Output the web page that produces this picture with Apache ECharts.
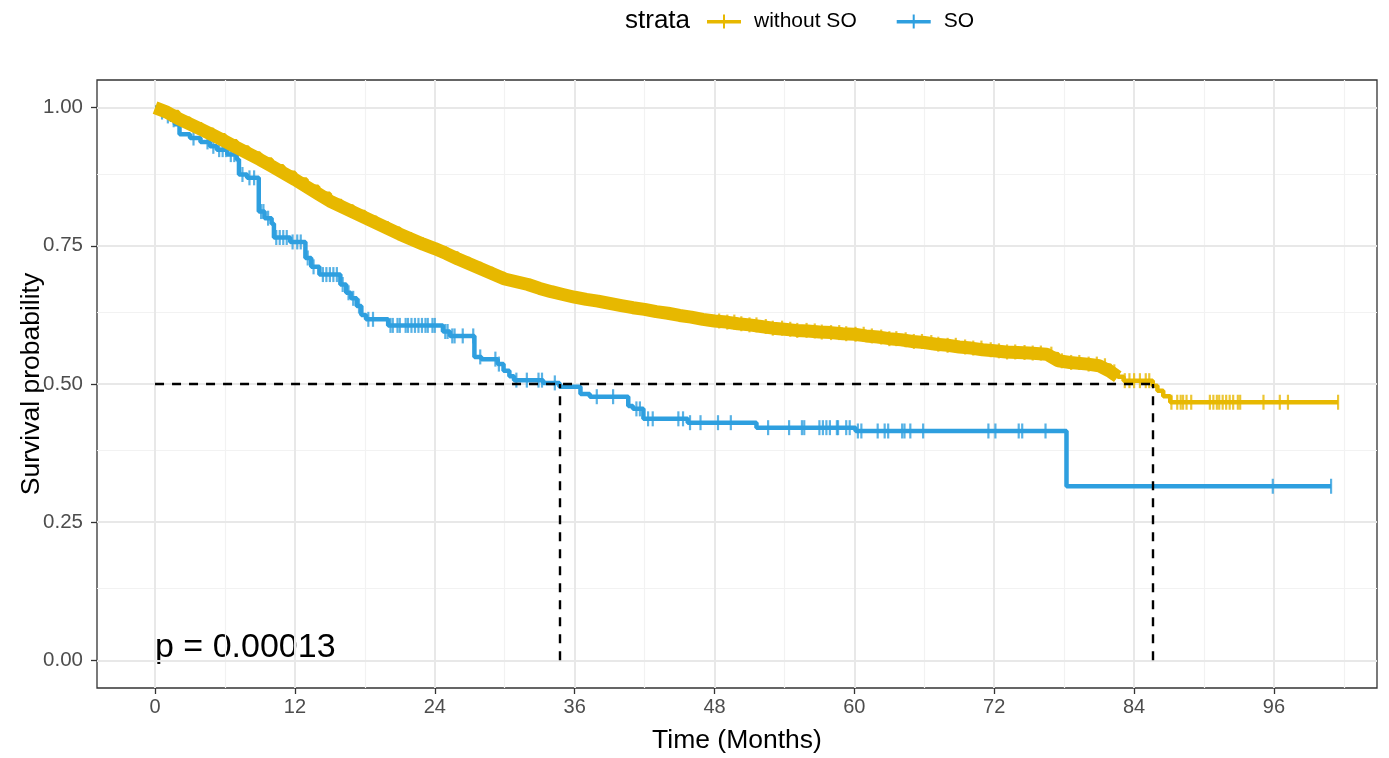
<!DOCTYPE html>
<html>
<head>
<meta charset="utf-8">
<script src="https://cdn.jsdelivr.net/npm/echarts@6/dist/echarts.min.js"></script>
<style>
html, body { margin: 0; padding: 0; background: #fff; }
#chart { width: 1389px; height: 758px; }
</style>
</head>
<body>
<div id="chart"></div>
<script>
// axis ticks (months / survival probability)
var xTicks = [0, 12, 24, 36, 48, 60, 72, 84, 96];
var xMinor = [6, 18, 30, 42, 54, 66, 78, 90, 102];
var yTicks = [0, 0.25, 0.5, 0.75, 1];
var yMinor = [0.125, 0.375, 0.625, 0.875];

// Kaplan-Meier steps
var yellowTime = [0, 1, 2, 3, 4, 5, 6, 7, 8, 9, 10, 11, 12, 13, 14, 15, 16, 17, 18, 19, 20, 21, 22, 23, 24, 25, 26, 27, 28, 29,
  30, 31, 32, 33, 34, 35, 36, 37, 38, 39, 40, 41, 42, 43, 44, 45, 46, 47, 48, 49, 50, 51, 52, 53, 54, 55, 56, 57, 58, 59,
  60, 61, 62, 63, 64, 65, 66, 67, 68, 69, 70, 71, 72, 73, 74, 75, 76.5, 77.5, 78.5, 80, 81, 82, 82.6, 83.1, 85.6, 86.0, 86.5, 87.1, 101.5];
var yellowSurv = [1.000, 0.992, 0.980, 0.970, 0.960, 0.950, 0.939, 0.928, 0.917, 0.906, 0.894, 0.882, 0.870, 0.857, 0.844, 0.831, 0.821, 0.811, 0.801, 0.791,
  0.781, 0.771, 0.762, 0.753, 0.745, 0.736, 0.726, 0.717, 0.708, 0.699, 0.690, 0.685, 0.680, 0.673, 0.667, 0.662, 0.657, 0.653, 0.650, 0.646,
  0.642, 0.638, 0.635, 0.631, 0.628, 0.624, 0.621, 0.617, 0.614, 0.612, 0.609, 0.607, 0.604, 0.601, 0.599, 0.597, 0.596, 0.594, 0.593, 0.591,
  0.590, 0.587, 0.585, 0.582, 0.580, 0.577, 0.575, 0.572, 0.570, 0.567, 0.565, 0.562, 0.560, 0.558, 0.557, 0.556,
  0.554, 0.542, 0.539, 0.536, 0.533, 0.522, 0.513, 0.506, 0.497, 0.488, 0.478, 0.467, 0.467];
var yellowDenseUntil = 83; // censoring is so dense up to here that the marks merge into a band
var yellowCensor = [48.4, 49.1, 49.7, 50.3, 51.0, 51.6, 52.4, 53.0, 53.8, 54.5, 55.1, 55.9, 56.6, 57.2, 58.0, 58.7, 59.3, 60.1, 60.8,
  61.5, 62.3, 63.0, 63.6, 64.4, 65.1, 65.8, 66.6, 67.2, 68.0, 68.7, 69.5, 70.2, 70.9, 71.7, 72.4, 73.1, 73.8, 74.6, 75.3, 76.0,
  76.9, 77.8, 78.6, 79.3, 80.1, 80.8, 81.5, 82.3, 83.2, 83.6, 84.0, 84.5, 85.0, 85.3,
  87.2, 87.7, 88.0, 88.2, 88.5, 88.9, 90.5, 90.8, 91.1, 91.3, 91.6, 91.9, 92.2, 92.5, 92.9, 93.1, 95.1, 96.5, 97.2, 101.5];

var blueTime = [0, 0.4, 0.9, 1.3, 1.7, 2.1, 3.0, 3.9, 4.7, 5.3, 6.2, 7.0, 7.2, 7.9, 8.9, 9.4, 10.0, 10.2, 11.6, 12.9, 13.4, 14.1,
  15.9, 16.4, 16.8, 17.3, 17.7, 18.1, 20.0, 24.7, 25.3, 27.4, 28.0, 29.4, 29.9, 30.4, 30.8, 33.3, 34.7, 36.5, 37.3, 40.6, 41.0,
  41.9, 45.7, 51.6, 60.1, 78.2, 100.9];
var blueSurv = [1.000, 0.992, 0.985, 0.978, 0.970, 0.952, 0.945, 0.938, 0.930, 0.924, 0.915, 0.906, 0.879, 0.873, 0.812, 0.800, 0.790,
  0.765, 0.757, 0.728, 0.712, 0.698, 0.680, 0.665, 0.655, 0.641, 0.625, 0.617, 0.606, 0.595, 0.587, 0.549, 0.545, 0.536, 0.524,
  0.514, 0.507, 0.502, 0.495, 0.482, 0.477, 0.460, 0.455, 0.437, 0.430, 0.421, 0.415, 0.315, 0.315];
var blueCensor = [0.6, 1.1, 1.6, 3.3, 4.5, 5.0, 5.5, 5.8, 6.1, 6.5, 6.8, 7.5, 8.1, 8.5, 9.1, 9.3, 9.7, 10.4, 10.7, 11.0, 11.3, 11.8,
  12.2, 12.5, 13.1, 13.6, 14.4, 14.7, 15.0, 15.3, 15.6, 16.1, 16.6, 17.0, 17.5, 18.3, 18.7, 20.2, 20.4, 20.8, 21.0, 21.5, 21.7,
  22.0, 22.3, 22.6, 22.9, 23.2, 23.4, 23.8, 24.0, 24.9, 25.1, 25.5, 25.7, 26.4, 27.3, 27.9, 29.2, 29.5, 31.0, 31.9, 32.9, 33.2,
  34.3, 37.9, 39.3, 41.3, 41.6, 42.3, 42.7, 44.9, 45.3, 45.9, 46.8, 48.3, 49.4, 52.6, 54.4, 55.5, 55.7, 57.0, 57.3, 57.6, 57.9,
  58.5, 58.6, 59.3, 59.6, 60.3, 60.6, 62.0, 62.6, 62.9, 64.1, 64.3, 64.8, 65.9, 71.5, 72.1, 74.1, 74.4, 76.4, 95.9, 100.9];

var medianTimes = [34.7, 85.6];
var pValue = 'p = 0.00013';

var YELLOW = '#E7B800';
var BLUE = '#2E9FDF';
var FONT = 'Liberation Sans, Arial, Helvetica, sans-serif';

function pairs(times, surv) {
    return times.map(function (t, i) { return [t, surv[i]]; });
}
function survAt(times, surv, t) {
    var s = surv[0];
    for (var i = 0; i < times.length; i++) {
        if (times[i] <= t) s = surv[i];
    }
    return s;
}
function censorPoints(times, surv, cens) {
    return cens.map(function (c) { return [c, survAt(times, surv, c)]; });
}

var yellowBand = pairs(yellowTime, yellowSurv).filter(function (p) { return p[0] <= yellowDenseUntil; });

var myChart = echarts.init(document.getElementById('chart'));

option = {
    backgroundColor: '#fff',
    animation: false,
    title: {
        text: 'strata',
        left: 620,
        top: 4,
        padding: [4, 5],
        textStyle: { fontFamily: FONT, fontSize: 26, fontWeight: 'normal', color: '#000' }
    },
    legend: {
        data: ['without SO', 'SO'],
        left: 702,
        top: 6,
        itemWidth: 34,
        itemHeight: 14,
        itemGap: 40,
        icon: 'path://M0,5.5h34v3.5H0z M16,0h2v14h-2z',
        textStyle: { fontFamily: FONT, fontSize: 21, color: '#000', padding: [0, 0, 0, 8] }
    },
    grid: {
        left: 97,
        right: 12,
        top: 80,
        bottom: 70,
        outerBoundsMode: 'none',
        show: true,
        backgroundColor: '#fff',
        borderColor: '#333',
        borderWidth: 1.3
    },
    xAxis: {
        type: 'value',
        min: -4.98,
        max: 104.84,
        name: 'Time (Months)',
        nameLocation: 'middle',
        nameGap: 39,
        nameMoveOverlap: false,
        nameTextStyle: { fontFamily: FONT, fontSize: 26.5, color: '#000' },
        axisLine: { show: false, onZero: false },
        splitLine: { show: false },
        axisTick: { show: true, length: 6, customValues: xTicks, lineStyle: { color: '#333', width: 1.3 } },
        axisLabel: { customValues: xTicks, margin: 9, fontFamily: FONT, fontSize: 20, color: '#4d4d4d' }
    },
    yAxis: {
        type: 'value',
        min: -0.05,
        max: 1.05,
        name: 'Survival probability',
        nameLocation: 'middle',
        nameGap: 52,
        nameMoveOverlap: false,
        nameTextStyle: { fontFamily: FONT, fontSize: 26.5, color: '#000' },
        axisLine: { show: false, onZero: false },
        splitLine: { show: false },
        axisTick: { show: true, length: 6, customValues: yTicks, lineStyle: { color: '#333', width: 1.3 } },
        axisLabel: {
            customValues: yTicks, margin: 14, fontFamily: FONT, fontSize: 20.5, color: '#4d4d4d',
            formatter: function (v) { return v.toFixed(2); }
        }
    },
    graphic: [{
        type: 'text',
        left: 155,
        top: 631,
        style: { text: pValue, fontFamily: FONT, fontSize: 34, fill: '#000' }
    }],
    series: [
        {
            name: 'grid',
            type: 'line',
            data: [],
            silent: true,
            markLine: {
                silent: true,
                z: 1,
                symbol: ['none', 'none'],
                label: { show: false },
                lineStyle: { color: '#f2f2f2', width: 1.2, type: 'solid' },
                data: xMinor.map(function (v) { return { xAxis: v }; })
                    .concat(yMinor.map(function (v) { return { yAxis: v }; }))
            }
        },
        {
            name: 'grid major',
            type: 'line',
            data: [],
            silent: true,
            markLine: {
                silent: true,
                z: 1,
                symbol: ['none', 'none'],
                label: { show: false },
                lineStyle: { color: '#e8e8e8', width: 2, type: 'solid' },
                data: xTicks.map(function (v) { return { xAxis: v }; })
                    .concat(yTicks.map(function (v) { return { yAxis: v }; }))
            }
        },
        {
            name: 'without SO',
            type: 'line',
            step: 'end',
            color: YELLOW,
            showSymbol: false,
            lineStyle: { width: 4.5, color: YELLOW },
            data: pairs(yellowTime, yellowSurv)
        },
        {
            name: 'SO',
            type: 'line',
            step: 'end',
            color: BLUE,
            showSymbol: false,
            lineStyle: { width: 4.5, color: BLUE },
            data: pairs(blueTime, blueSurv)
        },
        {
            // dense censor marks drawn as one band along the curve
            name: 'without SO band',
            type: 'line',
            showSymbol: false,
            lineStyle: { width: 13, color: YELLOW, cap: 'butt' },
            data: yellowBand
        },
        {
            name: 'without SO censor',
            type: 'scatter',
            symbol: 'rect',
            symbolSize: [2.2, 15],
            itemStyle: { color: YELLOW },
            data: censorPoints(yellowTime, yellowSurv, yellowCensor)
        },
        {
            name: 'SO censor',
            type: 'scatter',
            symbol: 'rect',
            symbolSize: [2.2, 15],
            itemStyle: { color: BLUE },
            data: censorPoints(blueTime, blueSurv, blueCensor)
        },
        {
            name: 'median',
            type: 'line',
            data: [],
            silent: true,
            markLine: {
                silent: true,
                symbol: ['none', 'none'],
                label: { show: false },
                lineStyle: { color: '#000', width: 2.4, type: [9, 8] },
                data: [[{ coord: [0, 0.5] }, { coord: [medianTimes[1], 0.5] }]].concat(
                    medianTimes.map(function (m) { return [{ coord: [m, 0] }, { coord: [m, 0.5] }]; }))
            }
        }
    ]
};
myChart.setOption(option);
</script>
</body>
</html>
